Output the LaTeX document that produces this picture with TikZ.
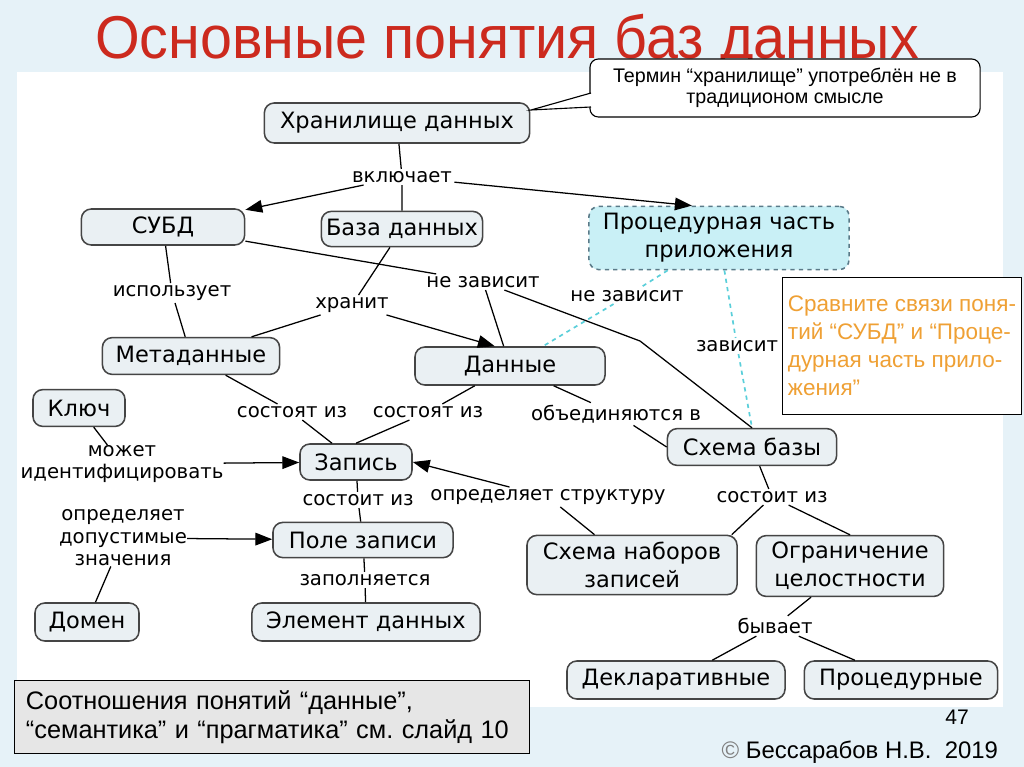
\documentclass[tikz,border=0pt]{standalone}
\usepackage{fontspec}
\setmainfont{Liberation Sans}
\newfontfamily\mapfont{DejaVu Sans}
\newfontfamily\titlefont[FakeStretch=0.95]{Liberation Sans}
\usetikzlibrary{arrows.meta,positioning,calc}
\frenchspacing

\definecolor{slidebg}{HTML}{E6F2F8}
\definecolor{titlered}{HTML}{CC2A1E}
\definecolor{conceptfill}{HTML}{EAF0F3}
\definecolor{conceptline}{HTML}{454545}
\definecolor{procfill}{HTML}{C9F0F6}
\definecolor{procline}{HTML}{5A7A88}
\definecolor{cyanlink}{HTML}{5ACFDA}
\definecolor{noteorange}{HTML}{EFA034}
\definecolor{notegrey}{HTML}{E6E6E6}

\tikzset{
  concept/.style={draw=conceptline, line width=1.1pt, rounded corners=7pt, fill=conceptfill,
    inner sep=0pt, align=center, font=\mapfont\fontsize{16}{20}\selectfont},
  proc/.style={concept, fill=procfill, draw=procline, dashed},
  link/.style={fill=white, inner sep=1.5pt, align=center, font=\mapfont\fontsize{14}{16}\selectfont},
  arr/.style={-{Triangle[length=12pt,width=9pt]}},
  dep/.style={cyanlink, dashed, line width=1.2pt},
  conn/.style={line width=0.9pt}
}

\begin{document}
\begin{tikzpicture}[x=0.025cm,y=-0.025cm]
\useasboundingbox (0,0) rectangle (1024,767);
\fill[slidebg] (0,0) rectangle (1024,767);
\fill[white] (17,72) rectangle (1003,707);

\node[text=titlered, anchor=base, font=\titlefont\fontsize{43}{46}\selectfont] (title) at (507,59) {Основные понятия баз данных};

\node[concept, minimum width=6.63cm, minimum height=1cm] (stor) at (397,123) {Хранилище данных};
\node[concept, minimum width=4.08cm, minimum height=0.9cm] (dbms) at (163,227) {СУБД};
\node[concept, minimum width=4.03cm, minimum height=0.88cm] (db) at (402,229) {База данных};
\node[proc, minimum width=6.5cm, minimum height=1.58cm] (app) at (719,238) {Процедурная часть\\приложения};
\node[concept, minimum width=4.43cm, minimum height=0.92cm] (meta) at (191,356) {Метаданные};
\node[concept, minimum width=4.75cm, minimum height=0.95cm] (data) at (510,366) {Данные};
\node[concept, minimum width=2.3cm, minimum height=0.92cm] (key) at (79,408) {Ключ};
\node[concept, minimum width=2.8cm, minimum height=0.9cm] (rec) at (356,462) {Запись};
\node[concept, minimum width=4.23cm, minimum height=0.92cm] (schema) at (752,447) {Схема базы};
\node[concept, minimum width=4.5cm, minimum height=0.88cm] (field) at (363,540) {Поле записи};
\node[concept, minimum width=2.6cm, minimum height=0.95cm] (domain) at (87,622) {Домен};
\node[concept, minimum width=5.7cm, minimum height=0.95cm] (elem) at (366,622) {Элемент данных};
\node[concept, minimum width=5.25cm, minimum height=1.48cm] (sets) at (632,565) {Схема наборов\\записей};
\node[concept, minimum width=4.68cm, minimum height=1.52cm] (constr) at (850,566) {Ограничение\\целостности};
\node[concept, minimum width=5.45cm, minimum height=0.95cm] (decl) at (676,680) {Декларативные};
\node[concept, minimum width=4.83cm, minimum height=0.95cm] (procd) at (901,680) {Процедурные};

\node[link] (incl) at (402,177) {включает};
\node[link] (uses) at (172,293) {использует};
\node[link] (keeps) at (352,305) {хранит};
\node[link] (indep) at (483,282) {не зависит};
\node[link] (indepapp) at (627,296) {не зависит};
\node[link] (depapp) at (737,346) {зависит};
\node[link] (consl) at (292,412) {состоят из};
\node[link] (consr) at (428,412) {состоят из};
\node[link] (unite) at (616,414) {объединяются в};
\node[link, inner sep=0pt] (ident) at (122,464) {может\\идентифицировать};
\node[link] (consist) at (358,500) {состоит из};
\node[link] (struct) at (548,497) {определяет структуру};
\node[link, inner sep=0pt] (domdef) at (123,538) {определяет\\допустимые\\значения};
\node[link] (filled) at (365,580) {заполняется};
\node[link] (consch) at (772,497) {состоит из};
\node[link] (kind) at (775,626) {бывает};

\coordinate (bend) at (640,341);

\draw[conn] (stor)--(incl)--(db);
\draw[conn,arr] (incl)--(dbms);
\draw[conn,arr] (incl)--([xshift=-0.68cm]app.north);
\draw[conn] (dbms)--(indep)--(data);
\draw[conn] (indep)--(bend)--(schema.north);
\draw[conn] (db)--(keeps)--(meta);
\draw[conn,arr] (keeps)--([xshift=-0.38cm]data.north);
\draw[conn] (dbms)--(uses)--(meta);
\draw[conn] (meta)--(consl)--(rec);
\draw[conn] (data)--(consr)--(rec.north);
\draw[conn] (data)--(unite)--(schema.west);
\draw[dep] (app)--(indepapp)--(data);
\draw[dep] (app)--(depapp)--(schema.north);
\draw[conn] (key)--(ident);
\draw[conn,arr] (ident)--(rec);
\draw[conn] (rec)--(consist)--(field);
\draw[conn] (field)--(filled)--(elem);
\draw[conn] (domain)--(domdef);
\draw[conn,arr] (domdef)--(field);
\draw[conn] (sets)--(struct);
\draw[conn,arr] (struct)--(rec.east);
\draw[conn] (schema)--(consch)--([xshift=-0.15cm]sets.north east);
\draw[conn] (consch)--(constr.north);
\draw[conn] (constr)--(kind)--(decl);
\draw[conn] (kind)--(procd);

\node[draw=black, line width=0.8pt, rounded corners=6pt, fill=white, minimum width=9.75cm, minimum height=1.45cm,
  align=center, font=\fontsize{14}{14.5}\selectfont] (term) at (785,88) {Термин “хранилище” употреблён не в\\традиционом смысле};
\coordinate (tail) at (531,110);
\fill[white] (tail)--(593,93)--(593,107)--cycle;
\draw[line width=0.8pt] (591,93)--(tail)--(591,107);

\node[draw=black, line width=0.8pt, fill=white, minimum width=5.98cm, minimum height=3.43cm,
  align=left, text=noteorange, font=\fontsize{16}{20}\selectfont] (compare) at (902,346)
  {Сравните связи поня-\\тий “СУБД” и “Проце-\\дурная часть прило-\\жения”};

\node[draw=black, line width=0.8pt, fill=notegrey, minimum width=12.73cm, minimum height=1.83cm, inner xsep=8pt,
  text width=12.3cm, align=left, font=\fontsize{18}{21}\selectfont] (see) at (272,717)
  {Соотношения понятий “данные”,\\“семантика” и “прагматика” см. слайд 10};

\node[font=\fontsize{15}{17}\selectfont] (page) at (957,717) {47};
\node[font=\fontsize{17}{19}\selectfont, anchor=east] (author) at (1003,752) {{\color{gray}©} Бессарабов Н.В.\ \ 2019};
\end{tikzpicture}
\end{document}
